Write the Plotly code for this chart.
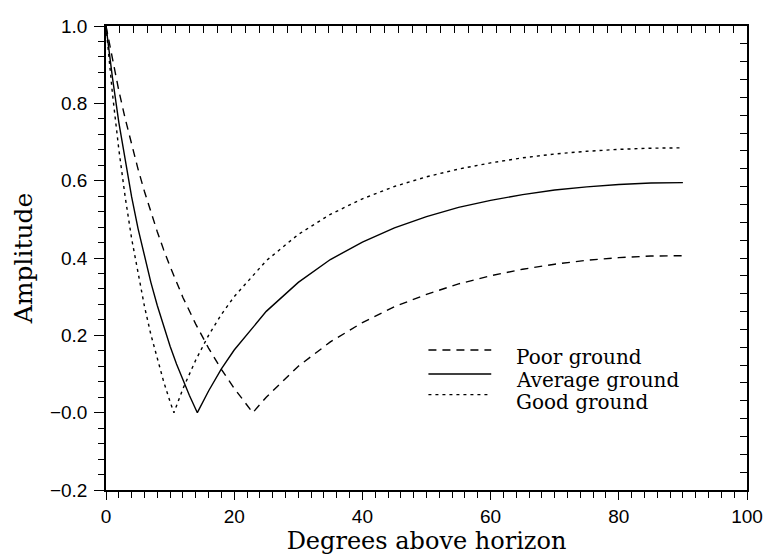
import plotly.graph_objects as go

# Degrees above horizon and reflection amplitude
poor_x = [0, 1, 2, 3, 4, 5, 6, 7, 8, 9, 10, 12, 14, 16, 18, 20, 22, 22.9, 25, 30,
          35, 40, 45, 50, 55, 60, 65, 70, 75, 80, 85, 90]
poor_y = [1.0, 0.913, 0.833, 0.760, 0.692, 0.630, 0.572, 0.518, 0.468, 0.421, 0.378,
          0.298, 0.229, 0.167, 0.112, 0.063, 0.019, 0.0, 0.040, 0.120, 0.183, 0.233,
          0.274, 0.306, 0.333, 0.354, 0.371, 0.384, 0.394, 0.401, 0.405, 0.406]

avg_x = [0, 1, 2, 3, 4, 5, 6, 7, 8, 9, 10, 11, 12, 13, 14.25, 16, 18, 20, 25, 30,
         35, 40, 45, 50, 55, 60, 65, 70, 75, 80, 85, 90]
avg_y = [1.0, 0.867, 0.751, 0.649, 0.558, 0.476, 0.403, 0.337, 0.277, 0.222, 0.172,
         0.126, 0.084, 0.045, 0.0, 0.056, 0.113, 0.162, 0.262, 0.337, 0.396, 0.441,
         0.478, 0.507, 0.531, 0.549, 0.564, 0.576, 0.584, 0.590, 0.594, 0.595]

good_x = [0, 1, 2, 3, 4, 5, 6, 7, 8, 9, 10, 10.6, 12, 14, 16, 18, 20, 25, 30, 35,
          40, 45, 50, 55, 60, 65, 70, 75, 80, 85, 90]
good_y = [1.0, 0.826, 0.681, 0.557, 0.450, 0.357, 0.275, 0.202, 0.138, 0.080, 0.028,
          0.0, 0.062, 0.136, 0.200, 0.254, 0.300, 0.393, 0.461, 0.513, 0.553, 0.585,
          0.610, 0.630, 0.646, 0.659, 0.669, 0.676, 0.681, 0.684, 0.685]

series_names = ["Poor ground", "Average ground", "Good ground"]

x_tickvals = [0, 20, 40, 60, 80, 100]
x_ticktext = ["0", "20", "40", "60", "80", "100"]
y_tickvals = [-0.2, 0.0, 0.2, 0.4, 0.6, 0.8, 1.0]
y_ticktext = ["\u22120.2", "\u22120.0", "0.2", "0.4", "0.6", "0.8", "1.0"]

TICK_FONT = dict(family="Liberation Sans, Arial, sans-serif", size=19, color="black")
SERIF = "DejaVu Serif, serif"
dashes = ["8px,6px", "solid", "3px,4px"]

fig = go.Figure()
for name, xs, ys, dash in zip(series_names, [poor_x, avg_x, good_x],
                              [poor_y, avg_y, good_y], dashes):
    fig.add_trace(go.Scatter(x=xs, y=ys, mode="lines", name=name,
                             line=dict(color="black", width=1.4, dash=dash),
                             showlegend=False))

# helper so the top/right frame axes are drawn
fig.add_trace(go.Scatter(x=[None], y=[None], xaxis="x2", yaxis="y2",
                         showlegend=False, hoverinfo="skip"))

fig.update_layout(
    width=764, height=556,
    margin=dict(l=106, r=17, t=26, b=66),
    paper_bgcolor="white", plot_bgcolor="white",
    xaxis=dict(range=[0, 100], tickmode="array", tickvals=x_tickvals, ticktext=x_ticktext,
               ticks="outside", ticklen=8, tickwidth=1.3, tickcolor="black",
               minor=dict(dtick=2, tick0=0, ticks="outside", ticklen=6, tickwidth=1.2,
                          tickcolor="black", showgrid=False),
               showline=True, linewidth=1.6, linecolor="black", automargin=False,
               showgrid=False, zeroline=False, tickfont=TICK_FONT, ticklabelstandoff=0,
               ticklabeloverflow="allow",
               title=dict(text="Degrees above horizon",
                          font=dict(family=SERIF, size=24, color="black"), standoff=4)),
    yaxis=dict(range=[-0.2, 1.0], tickmode="array", tickvals=y_tickvals, ticktext=y_ticktext,
               ticks="outside", ticklen=10, tickwidth=1.3, tickcolor="black",
               minor=dict(dtick=0.04, tick0=-0.2, ticks="outside", ticklen=6, tickwidth=1.2,
                          tickcolor="black", showgrid=False),
               showline=True, linewidth=1.6, linecolor="black", automargin=False,
               showgrid=False, zeroline=False, tickfont=TICK_FONT, ticklabelstandoff=3,
               title=dict(text="Amplitude",
                          font=dict(family=SERIF, size=25, color="black"), standoff=10)),
    xaxis2=dict(range=[0, 100], overlaying="x", side="top", anchor="y",
                tickmode="linear", tick0=0, dtick=100 / 46, ticks="inside", ticklen=7,
                tickwidth=1.2, tickcolor="black", showticklabels=False, automargin=False,
                showline=True, linewidth=1.6, linecolor="black",
                showgrid=False, zeroline=False),
    yaxis2=dict(range=[-0.2, 1.0], overlaying="y", side="right", anchor="x",
                tickmode="linear", tick0=-0.2, dtick=1.2 / 26, ticks="inside", ticklen=7,
                tickwidth=1.2, tickcolor="black", showticklabels=False, automargin=False,
                showline=True, linewidth=1.6, linecolor="black",
                showgrid=False, zeroline=False),
)

# hand-drawn style legend (keys + labels) inside the plot
leg_key_y = [0.3017, 0.25, 0.2056]
leg_text_y = [0.2866, 0.2377, 0.1892]
for name, dash, ky, ty in zip(series_names, dashes, leg_key_y, leg_text_y):
    fig.add_shape(type="line", xref="paper", yref="paper", x0=0.503, x1=0.601,
                  y0=ky, y1=ky, line=dict(color="black", width=1.4, dash=dash))
    fig.add_annotation(text=name, xref="paper", yref="paper", x=0.637, y=ty,
                       xanchor="left", yanchor="middle", showarrow=False,
                       font=dict(family=SERIF, size=20, color="black"))

fig.write_html("out.html")
